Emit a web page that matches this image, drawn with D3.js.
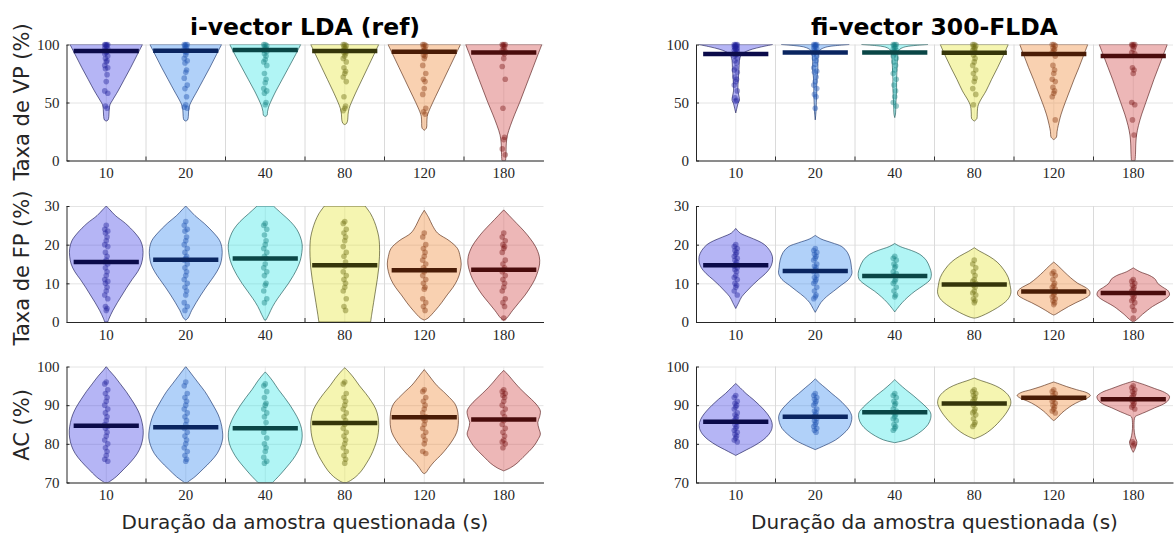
<!DOCTYPE html>
<html>
<head>
<meta charset="utf-8">
<script src="https://cdn.jsdelivr.net/npm/d3@7"></script>
<style>
body { margin: 0; background: #fff; }
svg { display: block; font-family: "DejaVu Sans", sans-serif; }
</style>
</head>
<body>
<div id="chart"></div>
<script>
var durations = ["10", "20", "40", "80", "120", "180"];
var panelTitles = ["i-vector LDA (ref)", "fi-vector 300-FLDA"];
var metricLabels = ["Taxa de VP (%)", "Taxa de FP (%)", "AC (%)"];
var xTitle = "Duração da amostra questionada (s)";
var yDomains = [[0, 100], [0, 30], [70, 100]];
var yTicks = [[0, 50, 100], [0, 10, 20, 30], [70, 80, 90, 100]];

var fillColors  = ["#4646e6", "#3c8cf0", "#3ce6e6", "#e6e63c", "#f08c3c", "#d24b4b"];
var darkColors  = ["#0b0b4a", "#0a2560", "#0a4646", "#35350a", "#4a1c06", "#4a0c0c"];
var pointColors = ["#22229a", "#1c50b0", "#138080", "#6e6e14", "#8a3a10", "#7a1616"];

// medians
var vpMedianRef = [94.3, 94.6, 95.2, 94.3, 93.8, 93.2];
var vpMedianFi  = [91.8, 93.2, 93.2, 92.9, 91.8, 90.0];
var fpMedianRef = [15.5, 16.1, 16.4, 14.7, 13.4, 13.5];
var fpMedianFi  = [14.7, 13.2, 11.9, 9.7, 7.9, 7.5];
var acMedianRef = [84.7, 84.3, 84.0, 85.4, 86.9, 86.3];
var acMedianFi  = [85.7, 87.0, 88.2, 90.4, 91.9, 91.5];

// violin outlines: [value, relative half width]
var vpShapeRef = [
  [[100,0.98],[90,0.82],[80,0.66],[70,0.49],[60,0.32],[52,0.17],[48,0.1],[44,0.08],[38,0.07],[35,0.05],[34,0]],
  [[100,0.97],[90,0.81],[80,0.65],[70,0.48],[60,0.31],[52,0.17],[48,0.11],[44,0.08],[38,0.07],[35,0.05],[34,0]],
  [[100,0.96],[90,0.8],[80,0.63],[70,0.46],[60,0.29],[50,0.14],[46,0.09],[42,0.06],[39,0.05],[38,0]],
  [[100,0.92],[90,0.77],[80,0.62],[70,0.47],[60,0.32],[50,0.18],[45,0.12],[40,0.09],[35,0.08],[32,0.05],[31,0]],
  [[100,0.98],[90,0.83],[80,0.68],[70,0.53],[60,0.38],[50,0.23],[42,0.12],[38,0.08],[32,0.07],[28,0.06],[26,0]],
  [[100,1.03],[90,0.91],[80,0.79],[70,0.67],[60,0.55],[50,0.43],[40,0.3],[30,0.18],[22,0.1],[15,0.07],[5,0.06],[0,0.05]]
];
var vpShapeFi = [
  [[100,1.0],[98,0.7],[96,0.45],[94,0.28],[92,0.18],[90,0.13],[86,0.1],[80,0.09],[75,0.08],[70,0.07],[65,0.06],[60,0.06],[55,0.09],[52,0.1],[49,0.06],[45,0.03],[41,0]],
  [[100,0.92],[99,0.55],[98,0.32],[96,0.16],[94,0.1],[90,0.08],[85,0.07],[78,0.07],[72,0.05],[65,0.04],[58,0.04],[50,0.03],[42,0.02],[35,0]],
  [[100,0.9],[99,0.5],[98,0.28],[96,0.14],[94,0.1],[90,0.08],[85,0.07],[78,0.06],[70,0.05],[62,0.05],[55,0.04],[48,0.03],[40,0.02],[37,0]],
  [[100,0.92],[90,0.78],[80,0.63],[70,0.47],[60,0.32],[52,0.17],[48,0.11],[45,0.09],[40,0.08],[36,0.07],[34,0]],
  [[100,0.92],[90,0.8],[80,0.68],[70,0.55],[60,0.43],[50,0.31],[40,0.2],[30,0.12],[25,0.09],[20,0.07],[18,0]],
  [[100,0.92],[90,0.8],[80,0.68],[70,0.56],[60,0.45],[50,0.34],[40,0.23],[30,0.14],[22,0.09],[15,0.07],[5,0.06],[0,0.05]]
];
var fpShapeRef = [
  [[30,0],[29,0.1],[27.5,0.25],[25.5,0.52],[23,0.78],[21,0.93],[19,0.99],[17,0.99],[15,0.95],[13,0.85],[11,0.7],[9,0.56],[7,0.43],[5,0.3],[3,0.18],[1,0.08],[0,0.04]],
  [[30,0],[29,0.1],[27.5,0.25],[25.5,0.5],[23,0.76],[21,0.92],[19,0.98],[17,0.98],[15,0.94],[13,0.84],[11,0.7],[9,0.55],[7,0.41],[5,0.28],[3,0.16],[1,0.06],[0.5,0]],
  [[30,0.22],[28,0.45],[26,0.68],[24,0.85],[22,0.95],[20,1.0],[18,0.99],[16,0.95],[14,0.87],[12,0.76],[10,0.63],[8,0.48],[6,0.33],[4,0.2],[2,0.1],[0.5,0.02]],
  [[30,0.55],[28,0.7],[26,0.8],[24,0.87],[22,0.92],[20,0.94],[17,0.94],[14,0.92],[11,0.88],[8,0.83],[5,0.78],[2,0.73],[0,0.7]],
  [[28.9,0],[27,0.12],[25,0.22],[23,0.36],[21,0.68],[19,0.9],[17,0.97],[15,1.0],[13,0.97],[11,0.9],[9,0.78],[7,0.62],[5,0.47],[3,0.3],[1,0.1],[0.5,0]],
  [[29,0],[27.5,0.15],[25.5,0.35],[23.5,0.55],[21.5,0.72],[19.5,0.86],[17,0.96],[15,0.97],[13,0.92],[11,0.84],[9,0.72],[7,0.58],[5,0.41],[3,0.24],[1,0.08],[0.5,0]]
];
var fpShapeFi = [
  [[24.2,0],[23,0.12],[22,0.35],[21,0.6],[20,0.78],[18.5,0.92],[17,0.99],[15.5,0.99],[14,0.93],[12.5,0.8],[11,0.62],[9.5,0.45],[8,0.3],[6.5,0.16],[5,0.08],[3.5,0]],
  [[22.4,0],[21.5,0.15],[20.5,0.45],[19.5,0.72],[18,0.87],[16,0.95],[14,0.98],[12.5,0.99],[11,0.9],[9.5,0.7],[8,0.5],[6.5,0.3],[5,0.15],[3.5,0.06],[2.5,0]],
  [[20.3,0],[19.5,0.15],[18.5,0.45],[17.5,0.68],[16,0.85],[14,0.95],[12.5,0.99],[11,0.96],[9.5,0.78],[8,0.55],[6.5,0.36],[5,0.2],[3.5,0.07],[2.6,0]],
  [[19.2,0],[18.3,0.15],[17,0.4],[15.5,0.62],[13.5,0.8],[11.5,0.92],[9.5,0.97],[7.5,0.99],[6,0.92],[4.5,0.75],[3,0.5],[2,0.3],[1.2,0.1],[1,0]],
  [[15.5,0],[14.5,0.12],[13,0.28],[11.5,0.45],[10,0.65],[9,0.85],[8,0.97],[7,0.97],[6,0.82],[5,0.6],[4,0.4],[3,0.22],[2,0.05],[1.8,0]],
  [[14,0],[13,0.18],[12,0.45],[11,0.6],[10,0.66],[9,0.8],[8,0.95],[7,0.98],[6,0.88],[5,0.7],[4,0.52],[3,0.38],[2,0.25],[1,0.14],[0.3,0.05],[0,0]]
];
var acShapeRef = [
  [[100,0],[99,0.08],[97.5,0.22],[95.5,0.38],[93.5,0.54],[91.5,0.68],[89.5,0.81],[87.5,0.91],[85.5,0.97],[83.5,1.0],[81.5,0.99],[79.5,0.94],[77.5,0.84],[75.5,0.68],[73.5,0.48],[71.5,0.27],[70.3,0.1],[70,0.05]],
  [[100,0],[99,0.08],[97.5,0.2],[95.5,0.36],[93.5,0.52],[91.5,0.65],[89.5,0.77],[87.5,0.88],[85.5,0.95],[83.5,0.99],[81.5,1.0],[79.5,0.95],[77.5,0.85],[75.5,0.68],[73.5,0.47],[71.5,0.25],[70.3,0.08],[70,0.04]],
  [[98.6,0],[97.5,0.1],[96,0.22],[94,0.36],[92,0.52],[90,0.67],[88,0.8],[86,0.91],[84,0.98],[82,1.0],[80,0.97],[78,0.88],[76,0.75],[74,0.58],[72,0.4],[70.5,0.25],[70,0.2]],
  [[99.7,0],[98.5,0.12],[97,0.25],[95,0.4],[93,0.57],[91,0.72],[89,0.84],[87,0.9],[85,0.92],[83,0.91],[81,0.87],[79,0.8],[77,0.71],[75,0.59],[73,0.45],[71.5,0.3],[70.3,0.12],[70,0.05]],
  [[99.2,0],[98,0.1],[96.5,0.22],[95,0.35],[93.5,0.52],[92,0.68],[90.5,0.82],[89,0.89],[87,0.92],[85,0.92],[83,0.88],[81,0.77],[79,0.62],[77,0.44],[75.5,0.28],[74,0.15],[72.5,0.04],[72.3,0]],
  [[99,0],[97.5,0.15],[96,0.28],[94.5,0.42],[93,0.58],[91.5,0.75],[90,0.9],[88.5,0.99],[87,0.97],[85.5,0.92],[84,0.95],[82.5,0.99],[81,0.92],[79.5,0.82],[78,0.68],[76.5,0.52],[75,0.36],[73.8,0.18],[73,0]]
];
var acShapeFi = [
  [[95.6,0],[94.5,0.12],[93,0.28],[91.5,0.47],[90,0.64],[88.5,0.79],[87,0.91],[85.5,0.98],[84,0.98],[82.5,0.9],[81,0.74],[79.5,0.5],[78.5,0.3],[77.5,0.1],[77,0]],
  [[96.8,0],[95.7,0.12],[94.5,0.27],[93,0.45],[91.5,0.64],[90,0.8],[88.5,0.93],[87,0.99],[85.5,0.97],[84,0.9],[82.5,0.75],[81,0.55],[80,0.35],[79,0.12],[78.5,0]],
  [[96.6,0],[95.5,0.12],[94,0.3],[92.5,0.5],[91,0.68],[89.5,0.85],[88,0.97],[86.5,0.97],[85,0.9],[83.5,0.75],[82,0.52],[81,0.3],[80.5,0.1],[80.3,0]],
  [[97,0],[96.3,0.2],[95.5,0.45],[94.5,0.68],[93.3,0.85],[92,0.96],[90.5,0.99],[89,0.93],[87.5,0.83],[86,0.7],[84.5,0.55],[83,0.36],[82,0.18],[81.3,0]],
  [[96,0],[95.5,0.15],[94.8,0.35],[94,0.62],[93.2,0.9],[92.5,0.99],[91.8,0.9],[91,0.7],[90,0.5],[89,0.35],[88,0.22],[87,0.12],[86.2,0.03],[86,0]],
  [[96.2,0],[95.3,0.3],[94.3,0.58],[93.3,0.85],[92.3,0.98],[91.3,0.95],[90.3,0.82],[89.3,0.58],[88.3,0.35],[87.5,0.15],[87,0.05],[85,0.02],[83,0.03],[81.5,0.06],[80.5,0.1],[79.5,0.08],[78.5,0.04],[77.8,0]]
];

// individual scores
var vpPointsRef = [
  [100,100,100,99.5,99,98,97,96,95,94,93,92,90,88,86,85,82,80,79,74,68,60,58,47,45],
  [100,100,100,99,98,97,96,95,94,93,91,88,86,84,78,76,71,65,62,55,48,46,45],
  [100,100,99,98,97,96,95,94,92,90,87,85,82,75,70,67,62,60,58,50,48],
  [100,100,99,98,97,96,95,94,93,92,90,88,85,80,77,75,72,68,55,47,45,43],
  [100,100,99,98,96,95,94,93,91,90,88,82,75,70,68,62,57,45,42,40],
  [100,100,100,99,98,96,95,94,93,92,88,81,70,45,20,18,10,5]
];
var vpPointsFi = [
  [100,100,100,99,99,98,98,97,97,96,96,95,94,93,92,91,90,88,86,84,80,78,76,72,70,68,65,60,54,52,51],
  [100,100,100,99,99,98,97,96,95,94,93,92,90,88,86,83,80,77,76,72,68,65,62,57,55,45],
  [100,100,100,99,98,97,96,95,94,93,92,90,88,85,82,78,75,70,65,60,55,50,47],
  [100,100,99,98,97,96,95,93,91,88,85,82,78,75,71,68,62,57,48],
  [100,100,99,97,96,95,93,90,82,78,75,70,68,63,60,58,55,35],
  [100,100,100,99,98,96,93,92,80,78,75,50,48,35,22]
];
var fpPointsRef = [
  [25,24,23.5,23,22,21,20,19.5,18,17,16,15.5,15,14,13,12,11,10.5,10,9,8,7,6,4,3.5,3],
  [26,25,24,23.5,22,21,20,19,18,17,16.5,16,15,14,13,12,11,10,9,8,7,5,4,3],
  [25.5,25,24,22.5,21,20,19,18,17,16.5,15,14,13,12,10,9.5,8,6,5],
  [26,25.5,24,23,22,21,19.5,18,17,15.5,14.5,13,12,11,10,9,8,6,4,3],
  [23,22,20,19,18,17,16,15,14,13.5,13,12,11,10,9,8.5,6,5,4,3],
  [23,22,21,20,19.5,19,18,16,15,14,13.5,13,12,11,10,9,8,6,5,4,1]
];
var fpPointsFi = [
  [20,19.5,19,18.5,18,17.5,17,16.5,16,15.5,15,14.5,14,13.5,13,12,11.5,11,10,9.5,9,8,7],
  [19,18.5,18,17.5,17,16.5,16,15,14.5,14,13.5,13,12,11.5,11,10.5,10,9,8,7,6.5,6],
  [17,16.5,16,15,14.5,14,13,12.5,12,11,10.5,10,9,8,7,6.5],
  [16,15,14,13,12,11,10.5,10,9.5,9,8,7.5,7,6,5.5,5],
  [13,12.5,12,11,10,9.5,9,8.5,8,7.5,7,6.5,6,5.5,5,4.5],
  [11,10.5,10,9.5,9,8.5,8,7.5,7,6.5,6,5.5,5,4,3,1]
];
var acPointsRef = [
  [96,95.5,94,93,92,91,90,89,88,87,86,85,84.5,84,83,82,81,80,79,78,77,76,75.5],
  [96,95,93,92,91,90,89,88,87,86,85,84,83,82,81,80,79,78,77,76,75.5],
  [95.5,95,93.5,92,90.5,90,89,88,87,85.5,84,83,81.5,80,79,78,76.5,75.5,75],
  [96,95.5,93,92,91,90,89,88,87,86,85,84,83,82,81,80,79,78,77,76,75],
  [94,93.5,92,91,90,89,88,87,86.5,86,85,84,83,82,81,80,78,77.5],
  [94,93.5,93,92.5,92,91,90,89,88,87,86,85,84,83,82,81,80.5,80,79]
];
var acPointsFi = [
  [92.5,92,91,90.5,90,89.5,89,88,87.5,87,86.5,86,85.5,85,84.5,84,83.5,83,82.5,82,81.5,81,80.5],
  [93,92.5,92,91.5,91,90.5,90,89,88.5,88,87.5,87,86.5,86,85.5,85,84.5,84,83.5,83],
  [93,92.5,92,91,90.5,90,89,88.5,88,87.5,87,86.5,86,85,84.5,84,83.5],
  [94,93.5,93,92.5,92,91.5,91,90.5,90,89,88.5,88,87.5,86.5,85.5,85,84.5],
  [94,93.5,93,92.5,92,91.5,91,90.5,90,89.5,89,88.5,88],
  [95,94.5,94,93.5,93,92.5,92,91.5,91,90.5,90,89.5,89,80.5,80,79.5]
];

var svgWidth = 1174, svgHeight = 534;
var colLeft = [66.5, 696];
var plotWidth = 477;
var rowTop = [44.5, 206, 366.5];
var plotHeight = 116;
var labelCenters = [102, 268, 425];

var svg = d3.select("#chart")
	.append("svg")
	.attr("width", svgWidth)
	.attr("height", svgHeight);

function violinPanel(col, row, shapes, points, medians) {
	var g = svg.append("g")
		.attr("transform", "translate(" + colLeft[col] + "," + rowTop[row] + ")");

	var xScale = d3.scaleBand().domain(durations).range([0, plotWidth]);
	var yScale = d3.scaleLinear().domain(yDomains[row]).range([plotHeight, 0]);
	var wScale = d3.scaleLinear().domain([0, 1]).range([0, xScale.bandwidth() * 0.465]);
	var medHalf = xScale.bandwidth() * 0.41;

	var clipId = "clip" + col + row;
	g.append("clipPath").attr("id", clipId)
		.append("rect").attr("x", 0).attr("y", 0).attr("width", plotWidth).attr("height", plotHeight);

	// gridlines
	g.append("g")
		.attr("class", "grid")
		.call(d3.axisLeft(yScale).tickValues(yTicks[row]).tickFormat("").tickSize(-plotWidth))
		.call(function(s) { s.select(".domain").remove(); })
		.selectAll("line").attr("stroke", "#e4e4e4");

	g.append("g")
		.attr("class", "grid")
		.attr("transform", "translate(0," + plotHeight + ")")
		.call(d3.axisBottom(xScale).tickFormat("").tickSize(-plotHeight))
		.call(function(s) { s.select(".domain").remove(); })
		.selectAll("line").attr("stroke", "#e8e8e8");

	g.selectAll(".sep")
		.data(durations.slice(1))
		.enter().append("line")
		.attr("class", "sep")
		.attr("x1", function(d) { return xScale(d); })
		.attr("x2", function(d) { return xScale(d); })
		.attr("y1", 0).attr("y2", plotHeight)
		.attr("stroke", "#dadada");

	var area = d3.area()
		.curve(d3.curveCatmullRom)
		.y(function(d) { return yScale(d[0]); });

	var gViolin = g.selectAll(".violin")
		.data(durations)
		.enter().append("g")
		.attr("class", "violin");

	gViolin.append("path")
		.attr("clip-path", "url(#" + clipId + ")")
		.attr("d", function(d, i) {
			var cx = xScale(d) + xScale.bandwidth() / 2;
			return area
				.x0(function(p) { return cx - wScale(p[1]); })
				.x1(function(p) { return cx + wScale(p[1]); })(shapes[i]);
		})
		.attr("fill", function(d, i) { return fillColors[i]; })
		.attr("fill-opacity", 0.4)
		.attr("stroke", function(d, i) { return darkColors[i]; })
		.attr("stroke-opacity", 0.75)
		.attr("stroke-width", 0.8);

	gViolin.each(function(d, i) {
		var cx = xScale(d) + xScale.bandwidth() / 2;
		var offs = [0, -1.5, 1.5, -0.8, 0.8];
		d3.select(this).selectAll("circle")
			.data(points[i])
			.enter().append("circle")
			.attr("cx", function(v, j) { return cx + offs[j % 5]; })
			.attr("cy", function(v) { return yScale(v); })
			.attr("r", 2.8)
			.attr("fill", pointColors[i])
			.attr("fill-opacity", 0.42);

		d3.select(this).append("line")
			.attr("x1", cx - medHalf)
			.attr("x2", cx + medHalf)
			.attr("y1", yScale(medians[i]))
			.attr("y2", yScale(medians[i]))
			.attr("stroke", darkColors[i])
			.attr("stroke-width", 4.5);
	});

	// boundary ticks
	g.selectAll(".btick")
		.data(durations.slice(1))
		.enter().append("line")
		.attr("x1", function(d) { return xScale(d); })
		.attr("x2", function(d) { return xScale(d); })
		.attr("y1", plotHeight).attr("y2", plotHeight - 4)
		.attr("stroke", "#333");

	var yAxis = g.append("g")
		.call(d3.axisLeft(yScale).tickValues(yTicks[row]).tickSize(-3).tickSizeOuter(0).tickPadding(7));
	var xAxis = g.append("g")
		.attr("transform", "translate(0," + plotHeight + ")")
		.call(d3.axisBottom(xScale).tickSize(0).tickPadding(7));

	[yAxis, xAxis].forEach(function(a) {
		a.select(".domain").attr("stroke", "#262626");
		a.selectAll(".tick line").attr("stroke", "#262626");
		a.selectAll("text")
			.attr("font-family", "'Liberation Serif', 'DejaVu Serif', serif")
			.attr("font-size", 15)
			.attr("fill", "#262626");
	});

	if (row === 0) {
		svg.append("text")
			.attr("x", colLeft[col] + plotWidth / 2)
			.attr("y", 35)
			.attr("text-anchor", "middle")
			.attr("font-weight", "bold")
			.attr("font-size", 23.5)
			.text(panelTitles[col]);
	}
	if (row === 2) {
		svg.append("text")
			.attr("x", colLeft[col] + plotWidth / 2)
			.attr("y", 529)
			.attr("text-anchor", "middle")
			.attr("font-size", 20)
			.attr("fill", "#262626")
			.text(xTitle);
	}
	if (col === 0) {
		svg.append("text")
			.attr("transform", "translate(22," + labelCenters[row] + ") rotate(-90)")
			.attr("text-anchor", "middle")
			.attr("dy", "0.35em")
			.attr("font-size", 21)
			.attr("fill", "#262626")
			.text(metricLabels[row]);
	}
}

violinPanel(0, 0, vpShapeRef, vpPointsRef, vpMedianRef);
violinPanel(1, 0, vpShapeFi, vpPointsFi, vpMedianFi);
violinPanel(0, 1, fpShapeRef, fpPointsRef, fpMedianRef);
violinPanel(1, 1, fpShapeFi, fpPointsFi, fpMedianFi);
violinPanel(0, 2, acShapeRef, acPointsRef, acMedianRef);
violinPanel(1, 2, acShapeFi, acPointsFi, acMedianFi);
</script>
</body>
</html>
